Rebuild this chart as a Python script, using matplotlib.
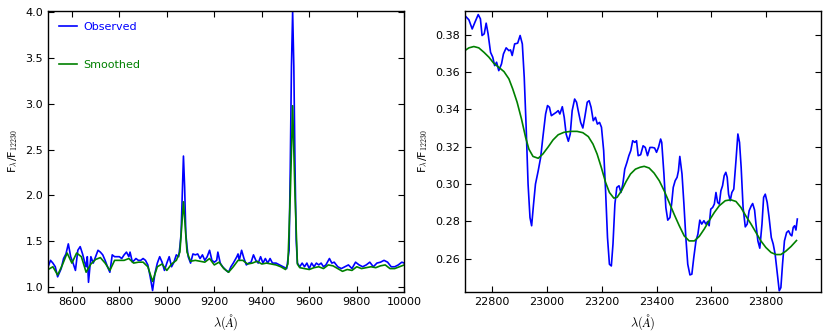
import matplotlib
matplotlib.use("Agg")
import matplotlib.pyplot as plt

plt.rcParams['mathtext.fontset'] = 'cm'
plt.rcParams['font.family'] = ['DejaVu Sans']

# ---- Left panel: observed spectrum ----
obs_wl_left = [8500, 8510, 8520, 8530, 8540, 8555, 8565, 8575, 8585, 8595, 8605, 8615, 8625, 8635,
               8645, 8655, 8660, 8665, 8670, 8680, 8690, 8700, 8710, 8720, 8730, 8740, 8750, 8760,
               8770, 8780, 8790, 8800, 8810, 8820, 8830, 8840, 8845, 8855, 8870, 8880, 8890, 8900,
               8910, 8920, 8930, 8940, 8950, 8960, 8970, 8980, 8990, 9000, 9010, 9020, 9030, 9040,
               9050, 9055, 9060, 9065, 9070, 9075, 9080, 9085, 9090, 9100, 9110, 9120, 9130, 9140,
               9150, 9160, 9170, 9180, 9190, 9200, 9210, 9215, 9225, 9235, 9250, 9260, 9270, 9280,
               9295, 9300, 9305, 9315, 9325, 9335, 9345, 9355, 9365, 9375, 9385, 9395, 9405, 9415,
               9425, 9435, 9445, 9460, 9475, 9490, 9505, 9515, 9520, 9525, 9530, 9535, 9540, 9545,
               9550, 9560, 9570, 9580, 9590, 9600, 9610, 9620, 9630, 9640, 9650, 9660, 9670, 9685,
               9695, 9705, 9720, 9735, 9750, 9765, 9780, 9795, 9810, 9825, 9840, 9855, 9870, 9885,
               9900, 9915, 9930, 9945, 9960, 9975, 9990, 10000]
obs_flux_left = [1.22, 1.29, 1.26, 1.22, 1.11, 1.20, 1.31, 1.36, 1.47, 1.33, 1.26, 1.18, 1.40, 1.44,
                 1.36, 1.26, 1.22, 1.33, 1.05, 1.33, 1.26, 1.33, 1.40, 1.38, 1.35, 1.29, 1.22, 1.16,
                 1.35, 1.33, 1.33, 1.33, 1.31, 1.35, 1.38, 1.33, 1.38, 1.27, 1.31, 1.29, 1.29, 1.31,
                 1.29, 1.24, 1.11, 0.96, 1.15, 1.26, 1.33, 1.27, 1.18, 1.26, 1.33, 1.22, 1.27, 1.35,
                 1.33, 1.44, 1.58, 2.02, 2.43, 2.09, 1.58, 1.44, 1.33, 1.26, 1.36, 1.35, 1.36, 1.31,
                 1.35, 1.29, 1.33, 1.40, 1.29, 1.27, 1.29, 1.38, 1.26, 1.22, 1.18, 1.16, 1.22, 1.26,
                 1.33, 1.36, 1.29, 1.40, 1.31, 1.24, 1.26, 1.27, 1.35, 1.29, 1.26, 1.33, 1.26, 1.31,
                 1.26, 1.31, 1.26, 1.26, 1.24, 1.22, 1.20, 1.40, 2.31, 3.41, 4.01, 3.41, 2.31, 1.51,
                 1.26, 1.22, 1.26, 1.22, 1.26, 1.20, 1.26, 1.22, 1.26, 1.24, 1.26, 1.22, 1.24, 1.31,
                 1.26, 1.27, 1.22, 1.20, 1.22, 1.24, 1.20, 1.27, 1.24, 1.22, 1.24, 1.27, 1.22, 1.26,
                 1.27, 1.29, 1.27, 1.22, 1.22, 1.24, 1.27, 1.26]

# ---- Left panel: smoothed spectrum ----
sm_wl_left = [8500, 8520, 8540, 8560, 8580, 8600, 8620, 8640, 8660, 8680, 8700, 8720, 8740, 8760,
              8780, 8800, 8820, 8840, 8860, 8880, 8900, 8920, 8940, 8960, 8980, 9000, 9020, 9040,
              9055, 9065, 9070, 9075, 9085, 9100, 9120, 9140, 9160, 9180, 9200, 9220, 9240, 9260,
              9280, 9300, 9320, 9340, 9360, 9380, 9400, 9420, 9440, 9460, 9480, 9500, 9510, 9520,
              9530, 9540, 9550, 9560, 9580, 9600, 9620, 9640, 9660, 9680, 9700, 9720, 9740, 9760,
              9780, 9800, 9820, 9840, 9860, 9880, 9900, 9920, 9940, 9960, 9980, 10000]
sm_flux_left = [1.19, 1.22, 1.13, 1.24, 1.37, 1.26, 1.37, 1.33, 1.16, 1.25, 1.30, 1.32, 1.26, 1.18,
                1.29, 1.29, 1.29, 1.31, 1.26, 1.27, 1.27, 1.22, 1.06, 1.22, 1.25, 1.18, 1.25, 1.29,
                1.38, 1.75, 1.93, 1.75, 1.38, 1.28, 1.29, 1.28, 1.27, 1.31, 1.24, 1.27, 1.20, 1.16,
                1.22, 1.29, 1.29, 1.25, 1.26, 1.28, 1.25, 1.26, 1.25, 1.24, 1.22, 1.19, 1.25, 2.00,
                2.98, 2.00, 1.25, 1.21, 1.20, 1.19, 1.21, 1.22, 1.20, 1.24, 1.23, 1.20, 1.17, 1.19,
                1.18, 1.22, 1.20, 1.21, 1.22, 1.21, 1.23, 1.24, 1.20, 1.20, 1.22, 1.24]

# ---- Right panel: observed spectrum ----
obs_wl_right = [22700, 22715, 22727, 22737, 22749, 22757, 22763, 22771, 22778, 22785, 22794, 22802,
                22809, 22816, 22824, 22834, 22841, 22851, 22861, 22867, 22873, 22882, 22893, 22902,
                22910, 22917, 22924, 22931, 22938, 22944, 22951, 22958, 22968, 22977, 22985, 22995,
                23002, 23009, 23016, 23025, 23034, 23041, 23047, 23056, 23063, 23070, 23078, 23085,
                23092, 23101, 23108, 23114, 23123, 23131, 23138, 23147, 23154, 23161, 23169, 23177,
                23184, 23192, 23199, 23207, 23214, 23221, 23228, 23235, 23241, 23248, 23255, 23263,
                23270, 23277, 23284, 23292, 23299, 23306, 23313, 23321, 23327, 23333, 23342, 23351,
                23359, 23367, 23376, 23385, 23393, 23400, 23407, 23415, 23419, 23427, 23434, 23441,
                23449, 23455, 23461, 23468, 23475, 23480, 23485, 23493, 23500, 23507, 23514, 23522,
                23529, 23536, 23544, 23551, 23558, 23565, 23573, 23580, 23587, 23592, 23598, 23605,
                23611, 23617, 23623, 23629, 23635, 23641, 23647, 23653, 23658, 23663, 23669, 23675,
                23682, 23690, 23697, 23703, 23709, 23716, 23724, 23731, 23738, 23746, 23751, 23758,
                23763, 23770, 23777, 23785, 23791, 23797, 23804, 23811, 23819, 23826, 23833, 23841,
                23848, 23854, 23860, 23867, 23875, 23882, 23889, 23894, 23899, 23904, 23909, 23914]
obs_flux_right = [0.3902, 0.3879, 0.3830, 0.3866, 0.3907, 0.3884, 0.3795, 0.3804, 0.3861, 0.3804,
                  0.3705, 0.3679, 0.3634, 0.3652, 0.3607, 0.3643, 0.3696, 0.3729, 0.3714, 0.3718,
                  0.3688, 0.3750, 0.3754, 0.3795, 0.3750, 0.3571, 0.3304, 0.3000, 0.2821, 0.2777,
                  0.2893, 0.3000, 0.3071, 0.3143, 0.3250, 0.3375, 0.3420, 0.3411, 0.3366, 0.3375,
                  0.3384, 0.3393, 0.3375, 0.3414, 0.3357, 0.3268, 0.3229, 0.3268, 0.3393, 0.3455,
                  0.3438, 0.3393, 0.3330, 0.3300, 0.3357, 0.3438, 0.3446, 0.3411, 0.3339, 0.3357,
                  0.3321, 0.3330, 0.3304, 0.3179, 0.2964, 0.2714, 0.2571, 0.2562, 0.2679, 0.2893,
                  0.2982, 0.2991, 0.2955, 0.3000, 0.3080, 0.3116, 0.3152, 0.3179, 0.3232, 0.3223,
                  0.3232, 0.3152, 0.3157, 0.3205, 0.3196, 0.3152, 0.3196, 0.3196, 0.3193, 0.3170,
                  0.3196, 0.3241, 0.3223, 0.3054, 0.2875, 0.2807, 0.2821, 0.2893, 0.2982, 0.3018,
                  0.3036, 0.3071, 0.3148, 0.3054, 0.2893, 0.2714, 0.2571, 0.2514, 0.2518, 0.2607,
                  0.2696, 0.2732, 0.2807, 0.2786, 0.2804, 0.2786, 0.2800, 0.2777, 0.2866, 0.2875,
                  0.2893, 0.2955, 0.2902, 0.2893, 0.2964, 0.2991, 0.3045, 0.3063, 0.3036, 0.2946,
                  0.2911, 0.2955, 0.2973, 0.3125, 0.3268, 0.3223, 0.3089, 0.2875, 0.2771, 0.2786,
                  0.2857, 0.2884, 0.2896, 0.2861, 0.2786, 0.2696, 0.2657, 0.2786, 0.2929, 0.2946,
                  0.2902, 0.2821, 0.2714, 0.2679, 0.2625, 0.2518, 0.2429, 0.2446, 0.2571, 0.2696,
                  0.2741, 0.2750, 0.2729, 0.2723, 0.2768, 0.2777, 0.2754, 0.2813]

# ---- Right panel: smoothed spectrum ----
sm_wl_right = [22700, 22715, 22733, 22751, 22770, 22788, 22806, 22824, 22843, 22861, 22875, 22891,
               22907, 22922, 22934, 22949, 22968, 22985, 23005, 23022, 23041, 23062, 23086, 23110,
               23131, 23151, 23168, 23183, 23199, 23214, 23228, 23244, 23256, 23272, 23289, 23305,
               23323, 23340, 23355, 23373, 23391, 23410, 23428, 23446, 23465, 23483, 23501, 23519,
               23538, 23556, 23574, 23592, 23611, 23629, 23651, 23671, 23690, 23708, 23726, 23745,
               23763, 23781, 23799, 23818, 23836, 23854, 23872, 23891, 23911]
sm_flux_right = [0.3714, 0.3729, 0.3736, 0.3729, 0.3705, 0.3679, 0.3646, 0.3625, 0.3602, 0.3563,
                 0.3509, 0.3438, 0.3348, 0.3250, 0.3187, 0.3148, 0.3138, 0.3161, 0.3200, 0.3236,
                 0.3264, 0.3277, 0.3282, 0.3282, 0.3275, 0.3254, 0.3214, 0.3161, 0.3086, 0.3009,
                 0.2955, 0.2925, 0.2929, 0.2964, 0.3014, 0.3054, 0.3080, 0.3090, 0.3095, 0.3086,
                 0.3059, 0.3018, 0.2964, 0.2902, 0.2836, 0.2777, 0.2723, 0.2696, 0.2696, 0.2720,
                 0.2759, 0.2804, 0.2848, 0.2884, 0.2911, 0.2916, 0.2907, 0.2875, 0.2830, 0.2786,
                 0.2741, 0.2696, 0.2661, 0.2634, 0.2623, 0.2623, 0.2641, 0.2666, 0.2698]

left_xticks = [8600, 8800, 9000, 9200, 9400, 9600, 9800, 10000]
left_yticks = [1.0, 1.5, 2.0, 2.5, 3.0, 3.5, 4.0]
right_xticks = [22800, 23000, 23200, 23400, 23600, 23800]
right_yticks = [0.26, 0.28, 0.30, 0.32, 0.34, 0.36, 0.38]

fig = plt.figure(figsize=(8.3, 3.34), dpi=100)
axL = fig.add_axes([0.058, 0.126, 0.429, 0.841])
axR = fig.add_axes([0.560, 0.126, 0.429, 0.841])

lw = 1.2
axL.plot(obs_wl_left, obs_flux_left, color='#0000ff', lw=lw, label='Observed')
axL.plot(sm_wl_left, sm_flux_left, color='#008000', lw=lw, label='Smoothed')
axL.set_xlim(8500, 10000)
axL.set_ylim(0.945, 4.015)
axL.set_xticks(left_xticks)
axL.set_yticks(left_yticks)

axR.plot(obs_wl_right, obs_flux_right, color='#0000ff', lw=lw)
axR.plot(sm_wl_right, sm_flux_right, color='#008000', lw=lw)
axR.set_xlim(22700, 24000)
axR.set_ylim(0.2423, 0.3926)
axR.set_xticks(right_xticks)
axR.set_yticks(right_yticks)
axR.set_yticklabels(['%.2f' % v for v in right_yticks])

for ax in (axL, axR):
    ax.tick_params(direction='in', top=True, right=True, labelsize=8, length=4, width=0.8)
    ax.set_xlabel(r'$\lambda(\AA)$', fontsize=9)
    ax.set_ylabel(r'F$_\lambda$/F$_{12230}$', fontsize=8)
    for s in ax.spines.values():
        s.set_linewidth(1.0)

axL.legend(loc='upper left', frameon=False, fontsize=8, labelcolor='linecolor',
           labelspacing=2.5, handlelength=1.6, handletextpad=0.6,
           borderaxespad=0.6)

fig.savefig('out.png', dpi=100)
